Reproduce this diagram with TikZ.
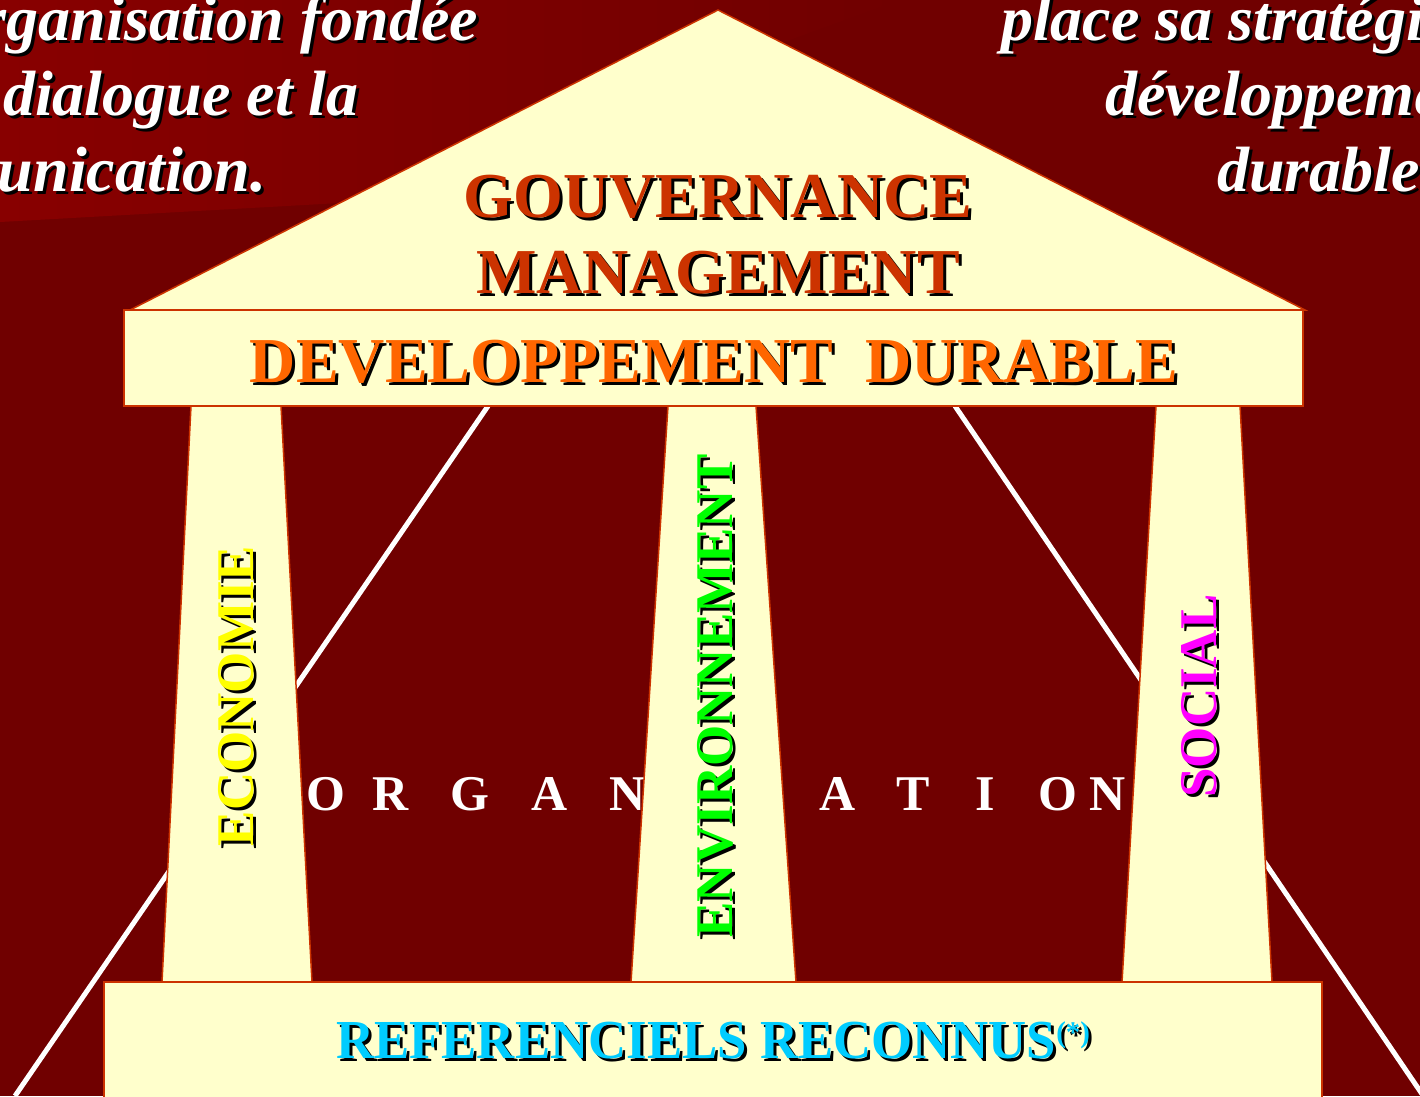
\documentclass[tikz,border=0pt]{standalone}
\usepackage{fontspec}
\setmainfont{Liberation Serif}
\definecolor{bgdark}{HTML}{700000}
\definecolor{bglight}{HTML}{880000}
\definecolor{cream}{HTML}{FFFFCC}
\definecolor{templeline}{HTML}{CC3300}
\definecolor{gouvcol}{HTML}{CC3300}
\definecolor{devcol}{HTML}{FF6600}
\definecolor{refcol}{HTML}{00CCFF}
\definecolor{ecocol}{HTML}{FFFF00}
\definecolor{envcol}{HTML}{00FF00}
\definecolor{soccol}{HTML}{FF00FF}
\newcommand\fsz[1]{\fontsize{#1}{#1}\selectfont}
% name, x, y, options, colour, text
\newcommand\stext[6]{%
  \node[txt,#4,text=black] (#1-sh) at (#2+3,#3+3) {#6};
  \node[txt,#4,text=#5] (#1) at (#2,#3) {#6};}
\begin{document}
\begin{tikzpicture}[x=1pt,y=-1pt,
  temple/.style={fill=cream,draw=templeline,line width=1.5pt,line join=miter},
  wline/.style={draw=white,line width=5pt},
  txt/.style={inner sep=0pt,outer sep=0pt},
  italtxt/.style={font=\fsz{64}\bfseries\itshape},
  bigtxt/.style={font=\fsz{64}\bfseries},
  coltxt/.style={font=\fsz{53}\bfseries,rotate=90,anchor=center}]
\useasboundingbox (0,0) rectangle (1420,1096);
\clip (0,0) rectangle (1420,1096);
% background
\fill[bgdark] (0,0) rectangle (1420,1096);
\shade[left color=bglight,right color=bgdark] (0,0) -- (900,0) -- (340,203) -- (0,222) -- cycle;
% white lines behind the temple
\coordinate (la) at (488,406);
\coordinate (lb) at (15,1096);
\coordinate (ra) at (955,406);
\coordinate (rb) at (1422,1094);
\draw[wline] (la) -- (lb);
\draw[wline] (ra) -- (rb);
% ORGANISATION (behind the pillars)
\foreach \l/\x [count=\i] in {O/326,R/391,G/470,A/550,N/628,I/700,S/768,A/838,T/913,I/985,O/1058,N/1108}
  \node[txt,anchor=base,text=white,font=\fsz{50}\bfseries] (org\i) at (\x,810) {\l};
% temple
\path[temple] (130,310) -- (718,10) -- (1305,310) -- cycle;
\path[temple] (191,406) -- (281,406) -- (312,982) -- (162,982) -- cycle;
\path[temple] (668,406) -- (756,406) -- (796,982) -- (631,982) -- cycle;
\path[temple] (1156,406) -- (1240,406) -- (1272,982) -- (1122,982) -- cycle;
\path[temple] (124,310) rectangle (1303,406);
\path[temple] (104,982) rectangle (1322,1102);
% top texts
\stext{tl1}{478}{40}{anchor=base east,italtxt}{white}{rganisation fondée}
\stext{tl2}{3}{115}{anchor=base west,italtxt}{white}{dialogue et la}
\stext{tl3}{-2}{191}{anchor=base west,italtxt}{white}{unication.}
\stext{tr1}{1001}{40}{anchor=base west,italtxt}{white}{place sa stratégi}
\stext{tr2}{1105}{115}{anchor=base west,italtxt}{white}{développeme}
\stext{tr3}{1217}{191}{anchor=base west,italtxt}{white}{durable}
% temple texts
\stext{gouv}{718}{217}{anchor=base,bigtxt}{gouvcol}{GOUVERNANCE}
\stext{mgmt}{718}{293}{anchor=base,bigtxt}{gouvcol}{MANAGEMENT}
\stext{dev}{714}{382}{anchor=base,bigtxt}{devcol}{DEVELOPPEMENT\ \ DURABLE}
\stext{ref}{713}{1058}{anchor=base,xscale=0.96,font=\fsz{55}\bfseries}{refcol}{REFERENCIELS RECONNUS\raisebox{16pt}{\fsz{30}(*)}}
\stext{eco}{236}{696}{coltxt}{ecocol}{ECONOMIE}
\stext{env}{715}{696}{coltxt}{envcol}{ENVIRONNEMENT}
\stext{soc}{1199}{696}{coltxt}{soccol}{SOCIAL}
\end{tikzpicture}
\end{document}
